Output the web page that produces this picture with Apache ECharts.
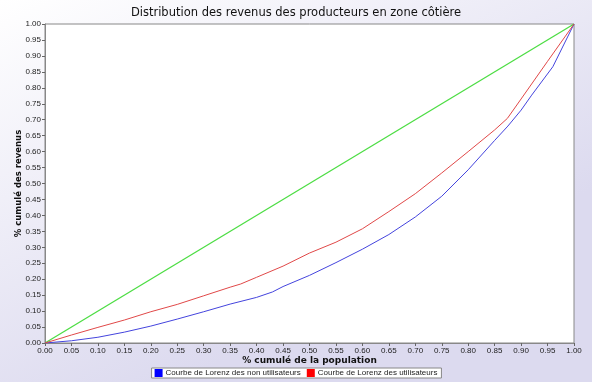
<!DOCTYPE html>
<html><head><meta charset="utf-8">
<script src="https://cdn.jsdelivr.net/npm/echarts@6/dist/echarts.min.js"></script>
<style>html,body{margin:0;padding:0;}#c{width:592px;height:382px;}</style>
</head><body><div id="c"></div>
<script>
const titleText = 'Distribution des revenus des producteurs en zone côtière';
const xAxisName = '% cumulé de la population';
const yAxisName = '% cumulé des revenus';
const seriesNames = ['Courbe de Lorenz des non utilisateurs', 'Courbe de Lorenz des utilisateurs'];
const equalityX = [0, 1];
const equalityY = [0, 1];
const nonUsersX = [0, 0.05, 0.10, 0.15, 0.20, 0.25, 0.30, 0.35, 0.40, 0.43, 0.45, 0.50, 0.55, 0.60, 0.65, 0.70, 0.75, 0.80, 0.85, 0.875, 0.90, 0.92, 0.96, 1.0];
const nonUsersY = [0, 0.007, 0.018, 0.034, 0.053, 0.075, 0.098, 0.122, 0.143, 0.160, 0.177, 0.212, 0.252, 0.294, 0.340, 0.395, 0.460, 0.543, 0.635, 0.680, 0.730, 0.777, 0.866, 1.0];
const usersX = [0, 0.05, 0.10, 0.15, 0.20, 0.25, 0.30, 0.35, 0.37, 0.40, 0.45, 0.50, 0.55, 0.60, 0.65, 0.70, 0.75, 0.80, 0.85, 0.874, 0.90, 0.95, 1.0];
const usersY = [0, 0.025, 0.049, 0.072, 0.098, 0.121, 0.148, 0.175, 0.185, 0.206, 0.241, 0.282, 0.316, 0.358, 0.412, 0.468, 0.533, 0.600, 0.668, 0.704, 0.765, 0.883, 1.0];

const zip = (xs, ys) => xs.map((x, i) => [x, ys[i]]);
const chart = echarts.init(document.getElementById('c'), null, {renderer: 'canvas'});
const labelStyle = {fontFamily: 'Liberation Sans', fontSize: 8, color: '#222'};
chart.setOption({
  animation: false,
  backgroundColor: {type: 'linear', x: 0, y: 0, x2: 0.3, y2: 1, colorStops: [{offset: 0, color: '#ffffff'}, {offset: 1, color: '#dcdaef'}]},
  title: {text: titleText, left: 'center', top: 2, textStyle: {fontFamily: 'DejaVu Sans', fontSize: 11.5, fontWeight: 'normal', color: '#111'}},
  grid: {left: 45, right: 18, top: 24, bottom: 39, containLabel: false, outerBoundsMode: 'none', show: true, backgroundColor: '#ffffff', borderColor: '#888', borderWidth: 1},
  legend: {
    top: 368, left: 'center', data: seriesNames, icon: 'rect', itemWidth: 8, itemHeight: 8, itemGap: 6,
    borderColor: '#888', borderWidth: 1, padding: [1, 4, 1, 3], backgroundColor: '#fff', borderRadius: 0,
    textStyle: {fontFamily: 'Liberation Sans', fontSize: 8, color: '#222', padding: [0, 0, 0, -2]}
  },
  xAxis: {
    type: 'value', min: 0, max: 1, interval: 0.05,
    name: xAxisName, nameLocation: 'middle', nameGap: 13, nameMoveOverlap: false,
    nameTextStyle: {fontFamily: 'DejaVu Sans', fontWeight: 'bold', fontSize: 9, color: '#111'},
    axisLine: {show: true, lineStyle: {color: '#888'}},
    axisTick: {show: true, length: 3, lineStyle: {color: '#666'}},
    axisLabel: Object.assign({margin: 4, formatter: v => v.toFixed(2)}, labelStyle),
    splitLine: {show: false}
  },
  yAxis: {
    type: 'value', min: 0, max: 1, interval: 0.05,
    name: yAxisName, nameLocation: 'middle', nameGap: 22, nameRotate: 90, nameMoveOverlap: false,
    nameTextStyle: {fontFamily: 'DejaVu Sans', fontWeight: 'bold', fontSize: 8.5, color: '#111'},
    axisLine: {show: true, lineStyle: {color: '#888'}},
    axisTick: {show: true, length: 3, lineStyle: {color: '#666'}},
    axisLabel: Object.assign({margin: 4, formatter: v => v.toFixed(2)}, labelStyle),
    splitLine: {show: false}
  },
  series: [
    {name: 'Égalité', type: 'line', data: zip(equalityX, equalityY), symbol: 'none', lineStyle: {color: '#4ddd44', width: 1.3}, itemStyle: {color: '#4ddd44'}, z: 1},
    {name: seriesNames[0], type: 'line', data: zip(nonUsersX, nonUsersY), symbol: 'none', lineStyle: {color: '#4444dd', width: 1}, itemStyle: {color: '#0000ff'}, z: 2},
    {name: seriesNames[1], type: 'line', data: zip(usersX, usersY), symbol: 'none', lineStyle: {color: '#e04848', width: 1}, itemStyle: {color: '#ff0000'}, z: 3}
  ]
});
</script>
</body></html>
